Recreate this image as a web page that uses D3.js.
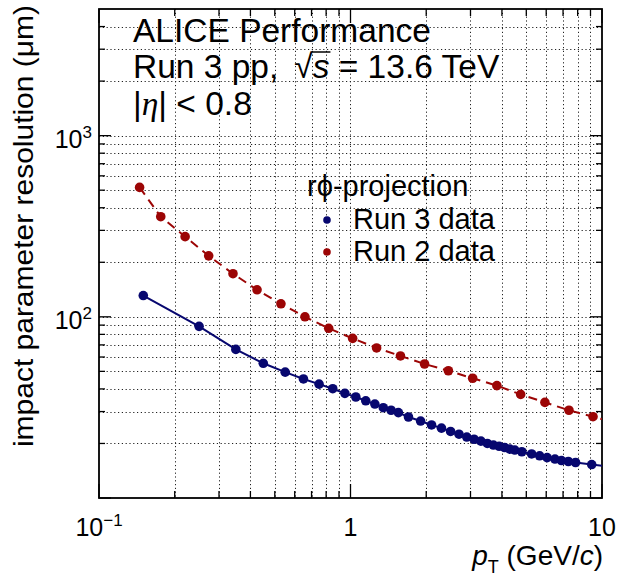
<!DOCTYPE html>
<html>
<head>
<meta charset="utf-8">
<script src="https://cdn.jsdelivr.net/npm/d3@7"></script>
<style>
  body { margin: 0; background: #fff; }
  text { font-family: "Liberation Sans", Arial, sans-serif; fill: #000; }
</style>
</head>
<body>
<div id="chart"></div>
<script>
// Run 3 pp data (navy, solid)
const ptRun3 = [0.15, 0.25, 0.35, 0.45, 0.55, 0.65, 0.75, 0.85, 0.95, 1.05,
  1.15, 1.25, 1.35, 1.45, 1.55, 1.7, 1.9, 2.1, 2.3, 2.5,
  2.7, 2.9, 3.1, 3.3, 3.5, 3.7, 3.9, 4.1, 4.3, 4.5,
  4.8, 5.25, 5.65, 6.05, 6.5, 6.9, 7.35, 7.85, 9.1];
const resRun3 = [131, 88.6, 66.1, 55.4, 49.5, 45.4, 42.5, 40.1, 37.8, 36.1,
  34.4, 33.0, 31.5, 30.5, 29.6, 28.0, 26.6, 25.3, 24.3, 23.3,
  22.5, 21.7, 21.1, 20.6, 20.0, 19.6, 19.3, 19.0, 18.6, 18.4,
  18.0, 17.5, 17.1, 16.7, 16.4, 16.1, 15.9, 15.7, 15.3];

// Run 2 data (dark red, dashed)
const ptRun2 = [0.145, 0.176, 0.22, 0.273, 0.341, 0.425, 0.529, 0.659, 0.819, 1.02,
  1.27, 1.58, 1.97, 2.45, 3.06, 3.82, 4.75, 5.93, 7.39, 9.21];
const resRun2 = [518, 357, 277, 217, 173, 141, 118, 100, 86.4, 76.0,
  67.3, 60.8, 54.9, 50.4, 45.8, 41.7, 37.3, 33.7, 30.5, 28.1];

// axis ticks
const xMajor = [0.1, 1, 10];
const xMinor = [0.2, 0.3, 0.4, 0.5, 0.6, 0.7, 0.8, 0.9, 2, 3, 4, 5, 6, 7, 8, 9];
const xLabels = [["10", "\u22121"], ["1", ""], ["10", ""]];
const yMajor = [10, 100, 1000];
const yMinor = [20, 30, 40, 50, 60, 70, 80, 90, 200, 300, 400, 500, 600, 700, 800, 900,
  2000, 3000, 4000];
const yLabels = [["10", "2"], ["10", "3"]];
const yLabelValues = [100, 1000];

const legendNames = ["Run 3 data", "Run 2 data"];
const colors = ["#07076f", "#9c0505"];

const W = 620, H = 579;
const fLeft = 99, fRight = 602, fTop = 9, fBottom = 498;

const svg = d3.select("#chart").append("svg")
  .attr("width", W).attr("height", H);
svg.append("rect").attr("width", W).attr("height", H).attr("fill", "#fff");

const x = d3.scaleLog().domain([0.1, 10]).range([fLeft, fRight]);
const y = d3.scaleLog().domain([10, 5000]).range([fBottom, fTop]);

// grid
const grid = svg.append("g")
  .attr("stroke", "#222").attr("stroke-width", 1)
  .attr("stroke-dasharray", "1.2,2.6");
grid.selectAll(".gx").data(xMinor.concat([1])).enter().append("line")
  .attr("x1", d => Math.round(x(d)) + 0.5).attr("x2", d => Math.round(x(d)) + 0.5)
  .attr("y1", fTop).attr("y2", fBottom);
grid.selectAll(".gy").data(yMinor.concat([100, 1000])).enter().append("line")
  .attr("y1", d => Math.round(y(d)) + 0.5).attr("y2", d => Math.round(y(d)) + 0.5)
  .attr("x1", fLeft).attr("x2", fRight);

// ticks on all four sides
const ticks = svg.append("g").attr("stroke", "#000").attr("stroke-width", 1.3);
const xt = xMajor.map(v => [v, 14]).concat(xMinor.map(v => [v, 7]));
const yt = yMajor.map(v => [v, 12]).concat(yMinor.map(v => [v, 6]));
xt.forEach(([v, len]) => {
  const px = x(v);
  ticks.append("line").attr("x1", px).attr("x2", px).attr("y1", fBottom).attr("y2", fBottom - len);
  ticks.append("line").attr("x1", px).attr("x2", px).attr("y1", fTop).attr("y2", fTop + len);
});
yt.forEach(([v, len]) => {
  const py = y(v);
  ticks.append("line").attr("y1", py).attr("y2", py).attr("x1", fLeft).attr("x2", fLeft + len);
  ticks.append("line").attr("y1", py).attr("y2", py).attr("x1", fRight).attr("x2", fRight - len);
});

// frame
svg.append("rect")
  .attr("x", fLeft).attr("y", fTop)
  .attr("width", fRight - fLeft).attr("height", fBottom - fTop)
  .attr("fill", "none").attr("stroke", "#000").attr("stroke-width", 1.8);

// tick labels
xMajor.forEach((v, i) => {
  const t = svg.append("text")
    .attr("x", x(v)).attr("y", 536)
    .attr("text-anchor", "middle")
    .style("font-size", "25px");
  t.append("tspan").text(xLabels[i][0]);
  if (xLabels[i][1]) {
    t.append("tspan").attr("dy", -10).style("font-size", "17px").text(xLabels[i][1]);
  }
});
yLabelValues.forEach((v, i) => {
  const t = svg.append("text")
    .attr("x", 92).attr("y", y(v) + 12)
    .attr("text-anchor", "end")
    .style("font-size", "25px");
  t.append("tspan").text(yLabels[i][0]);
  t.append("tspan").attr("dy", -10).style("font-size", "17px").text(yLabels[i][1]);
});

// axis titles
const xTitle = svg.append("text")
  .attr("x", 603).attr("y", 565)
  .attr("text-anchor", "end")
  .style("font-size", "28px");
xTitle.append("tspan").style("font-style", "italic").text("p");
xTitle.append("tspan").attr("dy", 8).style("font-size", "18px").text("T");
xTitle.append("tspan").attr("dy", -8).text(" (GeV/");
xTitle.append("tspan").style("font-style", "italic").text("c");
xTitle.append("tspan").text(")");

svg.append("text")
  .attr("transform", "translate(33,5) rotate(-90) scale(1,0.9)")
  .attr("text-anchor", "end")
  .style("font-size", "30px")
  .text("impact parameter resolution (\u03bcm)");

// curves
const series = [
  { pt: ptRun3, res: resRun3, color: colors[0], dash: null },
  { pt: ptRun2, res: resRun2, color: colors[1], dash: "9,6" }
];

svg.append("clipPath").attr("id", "frame")
  .append("rect").attr("x", fLeft).attr("y", fTop)
  .attr("width", fRight - fLeft).attr("height", fBottom - fTop);

const line = d3.line().x(d => d[0]).y(d => d[1]);
series.forEach(s => {
  const pts = s.pt.map((p, i) => [x(p), y(s.res[i])]);
  // extend last segment to the right frame edge
  const a = pts[pts.length - 2], b = pts[pts.length - 1];
  const slope = (b[1] - a[1]) / (b[0] - a[0]);
  pts.push([fRight, b[1] + slope * (fRight - b[0])]);
  svg.append("path")
    .attr("clip-path", "url(#frame)")
    .attr("d", line(pts))
    .attr("fill", "none")
    .attr("stroke", s.color)
    .attr("stroke-width", 2)
    .attr("stroke-dasharray", s.dash);
  svg.append("g").selectAll("circle")
    .data(s.pt.map((p, i) => [p, s.res[i]]))
    .enter().append("circle")
    .attr("cx", d => x(d[0]))
    .attr("cy", d => y(d[1]))
    .attr("r", 4.8)
    .attr("fill", s.color);
});

// header text
const head = svg.append("g").style("font-size", "33.5px");
head.append("text").attr("x", 133).attr("y", 42).text("ALICE Performance");
const l2 = head.append("text").attr("x", 133).attr("y", 78);
l2.append("tspan").text("Run 3 pp, \u2009");
l2.append("tspan").text("\u221a");
l2.append("tspan").style("font-style", "italic").text("s");
l2.append("tspan").text(" = 13.6 TeV");
const l3 = head.append("text").attr("x", 133).attr("y", 115);
l3.append("tspan").text("|");
l3.append("tspan").style("font-family", "'Liberation Serif', serif")
  .style("font-style", "italic").text("\u03b7");
l3.append("tspan").text("| < 0.8");

// overline for the square root
const l2node = l2.node();
const iRad = l2node.textContent.indexOf("\u221a");
const rad = l2node.getExtentOfChar(iRad);
const sExt = l2node.getExtentOfChar(iRad + 1);
svg.append("line")
  .attr("x1", rad.x + rad.width - 1).attr("x2", sExt.x + sExt.width + 1)
  .attr("y1", rad.y + 4).attr("y2", rad.y + 4)
  .attr("stroke", "#000").attr("stroke-width", 1.5);

// legend
const leg = svg.append("g").style("font-size", "29px");
leg.append("text").attr("x", 307).attr("y", 196).text("r\u03d5-projection");
legendNames.forEach((name, i) => {
  const ly = 229 + i * 32;
  leg.append("circle").attr("cx", 327).attr("cy", ly - 9).attr("r", 3.8)
    .attr("fill", colors[i]);
  leg.append("text").attr("x", 353).attr("y", ly).text(name);
});
</script>
</body>
</html>
